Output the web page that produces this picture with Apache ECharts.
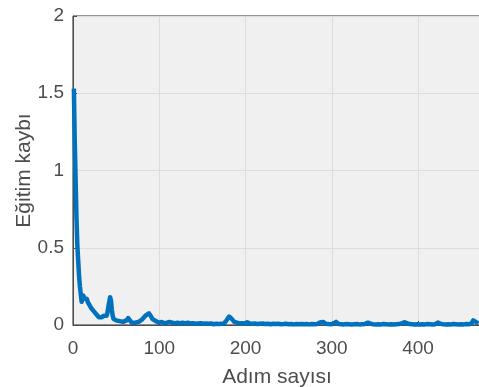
<!DOCTYPE html>
<html><head><meta charset="utf-8">
<script src="https://cdn.jsdelivr.net/npm/echarts@6/dist/echarts.min.js"></script>
<style>html,body{margin:0;padding:0;background:#fff}#c{width:479px;height:387px}</style>
</head><body><div id="c"></div>
<script>
var steps = [1,2,3,4,5,6,7,8,9,10,11,12,13,14,15,16,17,18,19,20,21,22,23,24,25,26,27,28,29,30,31,32,33,34,35,36,37,38,39,40,41,42,43,44,45,46,47,48,49,
50,52,54,56,58,60,62,64,66,68,70,72,74,76,78,80,82,84,86,88,90,92,94,96,98,100,
103,106,109,112,115,118,121,124,127,130,133,136,139,142,145,148,151,154,157,160,163,166,169,172,175,178,181,184,187,190,193,196,199,
202,205,208,211,214,217,220,223,226,229,232,235,238,241,244,247,250,253,256,259,262,265,268,271,274,277,280,283,287,290,293,296,299,
302,305,308,311,314,317,320,323,326,329,332,335,338,342,345,348,351,354,357,360,363,366,369,372,375,378,381,384,387,390,393,396,399,
402,405,408,411,414,417,420,423,426,429,432,435,438,441,444,447,450,453,456,459,462,464,467,470];
var loss = [1.53,1.2,0.95,0.7,0.52,0.42,0.32,0.25,0.2,0.15,0.16,0.19,0.17,0.18,0.16,0.17,0.15,0.14,0.13,0.12,0.11,0.10,0.11,0.09,0.08,0.08,0.07,0.06,0.07,0.05,0.05,0.06,0.05,0.04,0.05,0.06,0.05,0.07,0.06,0.08,0.12,0.15,0.18,0.16,0.10,0.06,0.04,0.03,0.03,
0.03,0.02,0.025,0.015,0.02,0.015,0.03,0.045,0.03,0.015,0.01,0.015,0.02,0.02,0.03,0.035,0.045,0.06,0.07,0.075,0.06,0.04,0.03,0.025,0.02,0.015,
0.02,0.01,0.015,0.02,0.015,0.01,0.015,0.012,0.015,0.01,0.015,0.01,0.012,0.008,0.01,0.012,0.008,0.01,0.008,0.01,0.005,0.008,0.006,0.008,0.01,0.03,0.055,0.04,0.02,0.015,0.01,0.012,0.008,
0.018,0.01,0.008,0.01,0.006,0.008,0.01,0.006,0.008,0.005,0.008,0.006,0.008,0.005,0.006,0.008,0.005,0.006,0.004,0.006,0.005,0.007,0.005,0.006,0.004,0.006,0.005,0.006,0.018,0.02,0.008,0.006,0.005,
0.008,0.02,0.006,0.005,0.004,0.006,0.005,0.004,0.005,0.006,0.004,0.005,0.006,0.015,0.008,0.005,0.004,0.005,0.004,0.006,0.005,0.004,0.005,0.004,0.005,0.006,0.01,0.018,0.012,0.006,0.005,0.004,0.005,
0.004,0.005,0.004,0.006,0.005,0.004,0.005,0.016,0.008,0.005,0.004,0.005,0.004,0.006,0.005,0.004,0.005,0.004,0.006,0.005,0.01,0.03,0.02,0.01];
var xTicks = [0,100,200,300,400];
var yTicks = [0,0.5,1,1.5,2];

var data = steps.map(function(s,i){return [s, loss[i]];});
var chart = echarts.init(document.getElementById('c'));
var font = '"Liberation Sans", Arial, Helvetica, sans-serif';
chart.setOption({
  animation:false,
  grid:{left:73,right:-2,top:16,bottom:62,containLabel:false,outerBoundsMode:'none',show:true,backgroundColor:'#f0f0f0',borderColor:'#262626',borderWidth:1},
  xAxis:{type:'value',min:0,max:473,interval:100,
    name:'Adım sayısı',nameLocation:'middle',nameGap:42,nameMoveOverlap:false,
    nameTextStyle:{fontFamily:font,fontSize:21,color:'#4d4d4d'},
    axisLine:{show:true,lineStyle:{color:'#4d4d4d',width:1}},
    axisTick:{show:true,inside:true,length:4,lineStyle:{color:'#4d4d4d'}},
    axisLabel:{fontFamily:font,fontSize:19,color:'#4d4d4d',margin:14,showMaxLabel:false,formatter:function(v){return xTicks.indexOf(v)>=0?String(v):'';}},
    splitLine:{show:true,lineStyle:{color:'#dcdcdc',width:1}}},
  yAxis:{type:'value',min:0,max:2,interval:0.5,
    name:'Eğitim kaybı',nameLocation:'middle',nameGap:38,nameMoveOverlap:false,
    nameTextStyle:{fontFamily:font,fontSize:21,color:'#4d4d4d'},
    axisLine:{show:true,lineStyle:{color:'#4d4d4d',width:1}},
    axisTick:{show:true,inside:true,length:4,lineStyle:{color:'#4d4d4d'}},
    axisLabel:{fontFamily:font,fontSize:19,color:'#4d4d4d',margin:9,formatter:function(v){return yTicks.indexOf(v)>=0?String(v):'';}},
    splitLine:{show:true,lineStyle:{color:'#dcdcdc',width:1}}},
  series:[{type:'line',data:data,showSymbol:false,clip:true,
    lineStyle:{color:'#0072BD',width:4.5,join:'round'}}]
});
</script></body></html>
